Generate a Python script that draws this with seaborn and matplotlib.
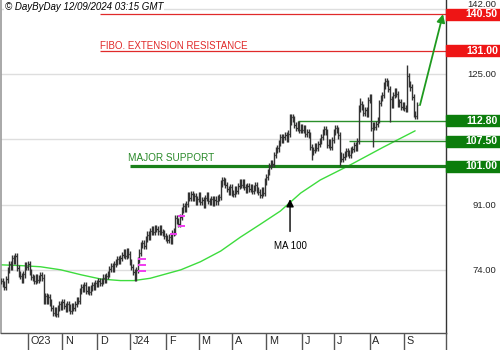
import numpy as np
import pandas as pd
import seaborn as sns
import matplotlib
matplotlib.use("Agg")
import matplotlib.pyplot as plt
from matplotlib.patches import Rectangle
from matplotlib.transforms import ScaledTranslation, blended_transform_factory

# ---------------- data ----------------
start_date = "2023-09-07"   # first bar (business-day index 0)

close = [
    71.0, 70.2, 69.5, 71.5, 74.0, 75.5, 74.8, 77.0, 76.2, 77.5,
    74.5, 73.0, 72.5, 71.5, 72.8, 75.2, 74.8, 75.6, 73.5, 72.2,
    71.8, 71.0, 72.0, 71.3, 71.8, 72.6, 72.0, 66.0, 67.2, 66.0,
    66.8, 65.5, 64.0, 62.8, 63.5, 62.5, 64.0, 65.2, 64.3, 65.5,
    64.6, 63.8, 65.0, 64.2, 63.2, 64.5, 64.0, 65.0, 66.2, 65.8,
    68.5, 69.5, 69.0, 70.0, 68.5, 69.0, 68.2, 69.3, 70.0, 69.6,
    70.5, 70.2, 71.0, 70.6, 71.2, 72.0, 71.5, 72.5, 73.0, 74.2,
    75.0, 74.3, 75.5, 76.0, 76.8, 76.2, 77.0, 77.8, 78.5, 77.6,
    78.8, 78.0, 76.0, 74.8, 73.5, 72.0, 74.0, 76.5, 78.5, 80.5,
    81.0, 80.2, 82.0, 83.2, 82.5, 84.0, 84.5, 83.8, 85.0, 84.6,
    84.0, 84.8, 83.9, 83.5, 82.8, 82.2, 81.8, 82.5, 81.5, 83.5,
    84.0, 87.5, 86.8, 86.0, 87.8, 89.5, 90.5, 89.8, 91.2, 93.5,
    92.6, 93.8, 92.8, 93.2, 91.8, 92.5, 93.5, 91.6, 92.2, 91.0,
    92.8, 93.4, 92.0, 91.8, 92.5, 91.5, 92.3, 91.8, 92.6, 93.0,
    96.5, 97.5, 97.0, 96.2, 95.0, 94.2, 95.5, 94.0, 93.8, 95.0,
    94.6, 95.8, 96.8, 96.2, 96.9, 95.5, 94.8, 95.9, 95.0, 95.6,
    94.6, 95.3, 96.0, 94.8, 94.2, 93.5, 94.8, 94.0, 97.0, 98.2,
    99.5, 101.0, 101.8, 101.5, 104.0, 105.2, 105.6, 107.0, 108.5, 107.8,
    108.6, 109.0, 108.2, 109.5, 112.5, 113.8, 113.2, 111.8, 111.0, 111.9,
    110.5, 111.2, 110.4, 110.9, 109.5, 110.0, 109.2, 106.0, 104.8, 105.3,
    106.2, 105.8, 106.8, 107.5, 108.5, 110.0, 110.6, 109.8, 106.5, 107.2,
    106.0, 107.8, 110.0, 111.0, 110.4, 109.0, 104.0, 102.8, 103.5, 104.2,
    105.0, 104.4, 104.0, 105.2, 105.5, 106.4, 105.8, 107.5, 116.0, 117.2,
    116.5, 114.8, 115.5, 114.6, 118.2, 119.0, 111.0, 111.8, 111.2, 112.0,
    113.0, 117.5, 118.8, 119.5, 122.0, 123.2, 122.6, 121.0, 118.5, 117.0,
    119.5, 120.5, 119.8, 117.2, 117.8, 116.5, 117.0, 116.2, 116.0, 124.5,
    122.5, 121.5, 119.0, 114.5, 114.0, 116.8,
]
high_spike_idx = [184, 229, 259]
high_spike_val = [114.6, 118.8, 127.3]
low_spike_idx = [198, 216, 237, 248]
low_spike_val = [102.6, 101.0, 106.0, 112.5]

# 100-day moving average
ma_idx = [0, 12.5, 25, 38, 51, 63.5, 76, 84.5, 95, 114.5, 127, 140, 152.5,
          165, 178, 191, 203.5, 222.5, 243.5, 264]
ma_val = [75.3, 75.1, 74.8, 74.0, 72.7, 71.6, 71.2, 71.2, 71.8, 74.0, 76.1,
          78.9, 82.5, 85.8, 89.3, 94.0, 97.4, 101.3, 105.9, 110.2]

# magenta gap marks
mark_idx = [87.5, 87.5, 87.5, 107.5, 113.0, 113.0]
mark_val = [76.8, 75.3, 73.6, 83.3, 85.5, 88.0]

# key levels
level_val = [140.5, 131.0, 112.8, 107.5, 101.0]
level_start = [63, 63, 189, 222, 82]
level_label = ["140.50", "131.00", "112.80", "107.50", "101.00"]
level_kind = ["res", "res", "sup", "sup", "major"]

ytick_vals = [74, 91, 108, 125, 142]
ytick_text = ["74.00", "91.00", "", "125.00", "142.00"]
month_dates = ["2023-10-02", "2023-11-01", "2023-12-01", "2024-01-01",
               "2024-02-01", "2024-03-01", "2024-04-01", "2024-05-01",
               "2024-06-03", "2024-07-01", "2024-08-01", "2024-09-02"]
month_labels = ["O23", "N", "D", "J24", "F", "M", "A", "M", "J", "J", "A", "S"]

# ---------------- styling constants ----------------
XMIN, XMAX = -0.2, 283.7
YMIN, YMAX = 57.55, 144.27
RED = "#ee1515"
RED_LINE = "#e02a2a"
GREEN_BOX = "#0c7d0c"
GREEN_LINE = "#2b8f2b"
MA_GREEN = "#3ddc3d"

sns.set_theme(style="white")
plt.rcParams["font.family"] = ["Liberation Sans", "DejaVu Sans"]

fig = plt.figure(figsize=(5, 3.5), dpi=100)
ax = fig.add_axes([1 / 500, 17 / 350, 445 / 500, 333 / 350])

idx = np.arange(len(close))
c = np.array(close)
o = np.r_[c[0], c[:-1]]
wick = 0.8
hi = np.maximum(o, c) + wick
lo = np.minimum(o, c) - wick
for i, v in zip(high_spike_idx, high_spike_val):
    hi[i] = max(hi[i], v)
for i, v in zip(low_spike_idx, low_spike_val):
    lo[i] = min(lo[i], v)

# grid
ax.set_yticks(ytick_vals)
ax.set_yticklabels(ytick_text)
ax.grid(axis="y", color="#dedede", lw=1)
ax.grid(axis="x", visible=False)
ax.set_axisbelow(True)

# MA line with seaborn
ma_df = pd.DataFrame({"idx": ma_idx, "ma": ma_val})
sns.lineplot(data=ma_df, x="idx", y="ma", ax=ax, color=MA_GREEN, lw=1.0,
             sort=False, zorder=2)

# level lines
for v, s, k in zip(level_val, level_start, level_kind):
    if k == "res":
        ax.hlines(v, s, XMAX, color=RED_LINE, lw=0.9, zorder=2)
    elif k == "sup":
        ax.hlines(v, s, XMAX, color=GREEN_LINE, lw=1.0, zorder=2)
    else:
        ax.hlines(v, s, XMAX, color="#1a801a", lw=2.3, zorder=2)

# OHLC bars
bar_col = "#333333"
ax.vlines(idx, lo, hi, color=bar_col, lw=1.0, zorder=3)
ax.hlines(c, idx, idx + 0.7, color=bar_col, lw=0.9, zorder=3)
ax.hlines(o, idx - 0.7, idx, color=bar_col, lw=0.9, zorder=3)

# magenta marks
ax.hlines(mark_val, np.array(mark_idx), np.array(mark_idx) + 4.5,
          color="#f03cf0", lw=1.4, zorder=4)

# annotations
ax.text(63, 132.4, "FIBO. EXTENSION RESISTANCE", color=RED_LINE, fontsize=7,
        va="center", ha="left", zorder=5)
ax.text(81, 103.2, "MAJOR SUPPORT", color="#2a8a2a", fontsize=7.2,
        va="center", ha="left", zorder=5)
ax.text(184.2, 80.2, "MA 100", color="black", fontsize=7,
        va="center", ha="center", zorder=5)
ax.annotate("", xy=(184.2, 92.4), xytext=(184.2, 84.0),
            arrowprops=dict(arrowstyle="-|>", color="black", lw=1.0,
                            mutation_scale=11, shrinkA=0, shrinkB=0), zorder=5)
ax.annotate("", xy=(281.8, 140.6), xytext=(267.1, 116.9),
            arrowprops=dict(arrowstyle="-|>", color="#1f9a1f", lw=1.3,
                            mutation_scale=12, shrinkA=0, shrinkB=0), zorder=5)

# right label boxes
trans = blended_transform_factory(ax.transAxes, ax.transData)
box_h = 11 / 3.84
for v, lab, k in zip(level_val, level_label, level_kind):
    col = RED if k == "res" else GREEN_BOX
    ax.add_patch(Rectangle((1.0, v - box_h / 2), 55 / 445, box_h,
                           transform=trans, color=col, clip_on=False, zorder=6))
    ax.text(497 / 445, v, lab, transform=trans, ha="right",
            va="center", color="white", fontsize=7.6, fontweight="bold",
            clip_on=False, zorder=7)

# axes setup
ax.set_xlim(XMIN, XMAX)
ax.set_ylim(YMIN, YMAX)
ax.set_xlabel("")
ax.set_ylabel("")

month_idx = [int(np.busday_count(start_date, d)) for d in month_dates]
ax.set_xticks(month_idx + [XMAX])
ax.set_xticklabels(month_labels + [""])
ax.tick_params(axis="x", length=12.3, width=1, color="#555555",
               direction="out", pad=-10.2, labelsize=7.8, bottom=True)
off = ScaledTranslation(2.0 / 72, 0, fig.dpi_scale_trans)
for lbl in ax.get_xticklabels():
    lbl.set_ha("left")
    lbl.set_transform(lbl.get_transform() + off)

ax.yaxis.tick_right()
ax.tick_params(axis="y", length=0, pad=36.5, labelsize=6.8, right=True)
for lbl in ax.get_yticklabels():
    lbl.set_ha("right")
    lbl.set_va("bottom" if lbl.get_text() == "142.00" else "center_baseline")

ax.spines["top"].set_visible(False)
ax.spines["left"].set_color("#9a9a9a")
ax.spines["left"].set_linewidth(1.2)
ax.spines["right"].set_color("#333333")
ax.spines["right"].set_linewidth(1)
ax.spines["bottom"].set_color("#555555")
ax.spines["bottom"].set_linewidth(1)

fig.text(5 / 500, 1 - 7 / 350, "\u00a9 DayByDay 12/09/2024 03:15 GMT",
         fontsize=7.0, style="italic", va="center", ha="left", color="black",
         bbox=dict(facecolor="white", edgecolor="none", pad=0.4), zorder=10)

fig.savefig("out.png", dpi=100, facecolor="white")
